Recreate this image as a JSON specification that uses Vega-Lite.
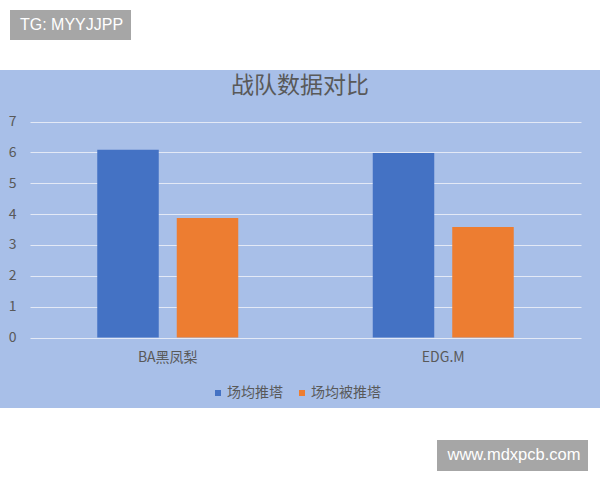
{
  "$schema": "https://vega.github.io/schema/vega-lite/v6.json",
  "width": 600,
  "height": 338,
  "autosize": {"type": "none"},
  "padding": {"left": 0, "right": 0, "top": 70, "bottom": 72},
  "background": "white",
  "view": {"fill": "#a8bfe8", "stroke": null},
  "config": {
    "view": {"fill": "#a8bfe8", "stroke": null},
    "font": "Noto Sans CJK SC"
  },
  "title": {
    "text": "战队数据对比",
    "fontSize": 23,
    "fontWeight": "normal",
    "color": "#595959",
    "anchor": "middle",
    "offset": -88,
    "font": "Noto Sans CJK SC"
  },
  "layer": [
    {
      "data": {
        "values": [
          {"team": "BA黑凤梨", "metric": "场均推塔", "value": 6.09},
          {"team": "BA黑凤梨", "metric": "场均被推塔", "value": 3.87},
          {"team": "EDG.M", "metric": "场均推塔", "value": 5.98},
          {"team": "EDG.M", "metric": "场均被推塔", "value": 3.58}
        ]
      },
      "mark": {"type": "bar"},
      "encoding": {
        "x": {
          "field": "team",
          "type": "nominal",
          "sort": ["BA黑凤梨", "EDG.M"],
          "scale": {"range": [30, 581], "paddingInner": 0, "paddingOuter": 0},
          "axis": {
            "title": null,
            "orient": "bottom",
            "offset": -70,
            "ticks": false,
            "domain": false,
            "grid": false,
            "labelPadding": 12,
            "labelFontSize": 14,
            "labelColor": "#595959",
            "labelAngle": 0
          }
        },
        "xOffset": {
          "field": "metric",
          "type": "nominal",
          "sort": ["场均推塔", "场均被推塔"],
          "scale": {"paddingInner": 0.2264, "paddingOuter": 0.846}
        },
        "y": {
          "field": "value",
          "type": "quantitative",
          "stack": null,
          "scale": {"domain": [-2.285, 8.671], "nice": false, "zero": false},
          "axis": {
            "title": null,
            "values": [0, 1, 2, 3, 4, 5, 6, 7],
            "offset": -18,
            "ticks": false,
            "domain": false,
            "labelPadding": 2,
            "labelFontSize": 14,
            "labelColor": "#595959",
            "gridColor": "#e3e9f6",
            "gridWidth": 1,
            "gridOpacity": 1
          }
        },
        "color": {
          "field": "metric",
          "type": "nominal",
          "sort": ["场均推塔", "场均被推塔"],
          "scale": {"domain": ["场均推塔", "场均被推塔"], "range": ["#4472C4", "#ED7D31"]},
          "legend": {
            "orient": "none",
            "legendX": 211,
            "legendY": 316,
            "direction": "horizontal",
            "title": null,
            "symbolType": "square",
            "symbolSize": 36,
            "symbolStrokeWidth": 0,
            "labelFontSize": 14,
            "labelColor": "#595959",
            "labelFont": "Noto Sans CJK SC",
            "columnPadding": 12,
            "labelOffset": 2
          }
        }
      }
    },
    {
      "data": {"values": [{"note": "TG: MYYJJPP"}]},
      "mark": {"type": "point", "opacity": 0},
      "encoding": {
        "shape": {
          "field": "note",
          "type": "nominal",
          "legend": {
            "orient": "none",
            "legendX": 10,
            "legendY": -60,
            "title": null,
            "fillColor": "#a6a6a6",
            "padding": 7,
            "symbolSize": 0,
            "symbolOpacity": 0,
            "symbolStrokeWidth": 0,
            "labelOffset": -13,
            "labelFont": "Liberation Sans",
            "labelFontSize": 16,
            "labelColor": "white"
          }
        }
      }
    },
    {
      "data": {"values": [{"note": "www.mdxpcb.com"}]},
      "mark": {"type": "point", "opacity": 0},
      "encoding": {
        "shape": {
          "field": "note",
          "type": "nominal",
          "legend": {
            "orient": "none",
            "legendX": 437,
            "legendY": 370,
            "title": null,
            "fillColor": "#a6a6a6",
            "padding": 7,
            "symbolSize": 0,
            "symbolOpacity": 0,
            "symbolStrokeWidth": 0,
            "labelOffset": -13,
            "labelFont": "Liberation Sans",
            "labelFontSize": 16.5,
            "labelColor": "white"
          }
        }
      }
    }
  ],
  "resolve": {"scale": {"shape": "independent"}, "legend": {"shape": "independent"}}
}
